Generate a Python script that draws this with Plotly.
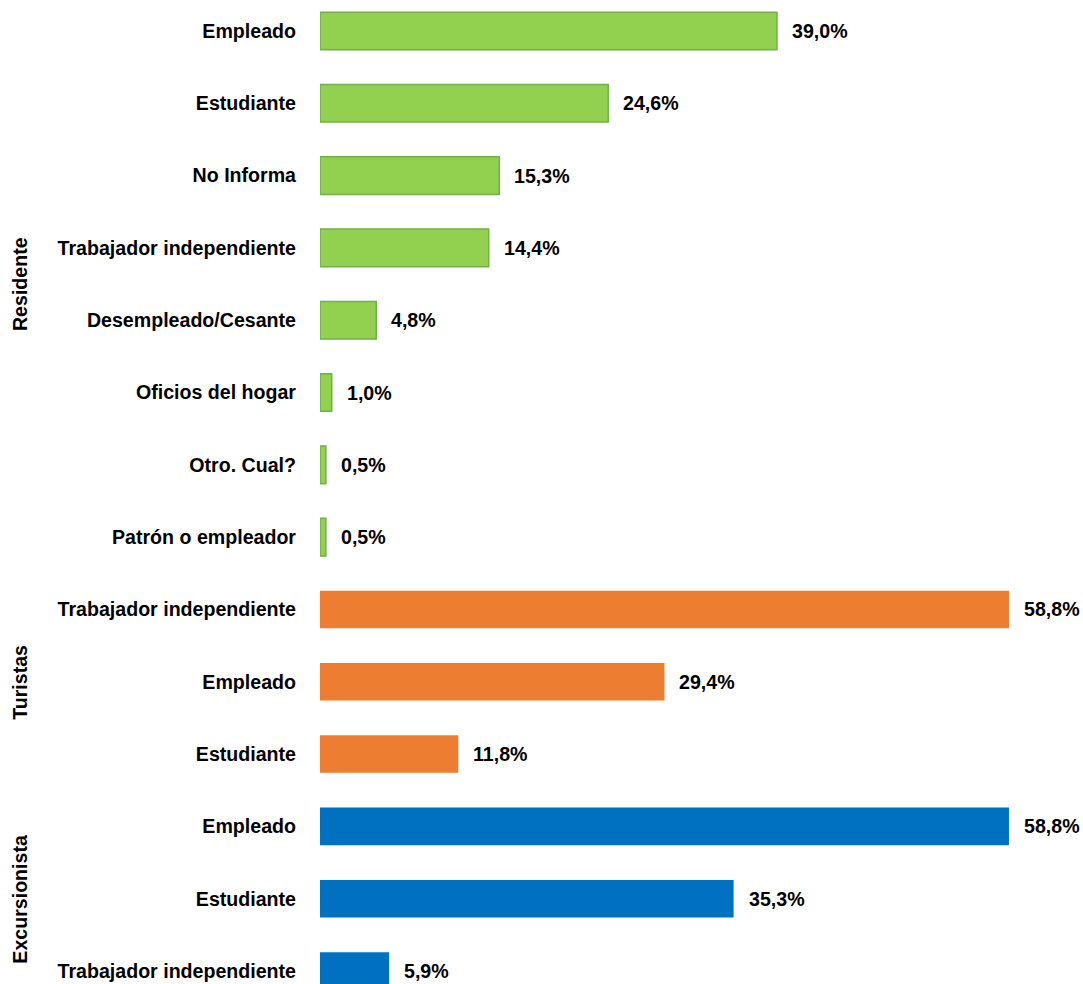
import plotly.graph_objects as go

categories = ["Empleado", "Estudiante", "No Informa", "Trabajador independiente",
              "Desempleado/Cesante", "Oficios del hogar", "Otro. Cual?", "Patrón o empleador",
              "Trabajador independiente", "Empleado", "Estudiante",
              "Empleado", "Estudiante", "Trabajador independiente"]
values = [39.0, 24.6, 15.3, 14.4, 4.8, 1.0, 0.5, 0.5,
          58.8, 29.4, 11.8,
          58.8, 35.3, 5.9]
groups = ["Residente"] * 8 + ["Turistas"] * 3 + ["Excursionista"] * 3
group_names = ["Residente", "Turistas", "Excursionista"]
group_colors = {"Residente": "#92D050", "Turistas": "#ED7D31", "Excursionista": "#0070C0"}
group_border = {"Residente": "#72AF48", "Turistas": "#ED7D31", "Excursionista": "#0070C0"}

FONT = "Liberation Sans Narrow, Arial Narrow, Liberation Sans, Arial, sans-serif"
FS = 19.6
ypos = list(range(len(categories)))

fig = go.Figure()
for g in group_names:
    idx = [i for i, gg in enumerate(groups) if gg == g]
    fig.add_trace(go.Bar(
        orientation="h",
        x=[values[i] for i in idx],
        y=[ypos[i] for i in idx],
        width=0.52,
        marker=dict(color=group_colors[g],
                    line=dict(color=group_border[g], width=1.5 if g == "Residente" else 0)),
        showlegend=False,
        hoverinfo="skip",
    ))

annotations = []
for i, v in enumerate(values):
    annotations.append(dict(
        x=v, y=ypos[i], xref="x", yref="y",
        text=f"{v:.1f}%".replace(".", ","),
        showarrow=False, xanchor="left", yanchor="middle", xshift=13,
        font=dict(family=FONT, size=FS, color="#000000", weight="bold"),
    ))

for g in group_names:
    idx = [i for i, gg in enumerate(groups) if gg == g]
    center = (ypos[idx[0]] + ypos[idx[-1]]) / 2
    annotations.append(dict(
        x=-0.3932, y=center, xref="paper", yref="y",
        text=g, textangle=-90, showarrow=False,
        xanchor="center", yanchor="middle",
        font=dict(family=FONT, size=FS, color="#000000", weight="bold"),
    ))

fig.update_layout(
    width=1083, height=984,
    margin=dict(l=320, r=0, t=0, b=0),
    plot_bgcolor="white", paper_bgcolor="white",
    annotations=annotations,
    xaxis=dict(range=[0, 65.12], showgrid=False, zeroline=False, showticklabels=False,
               showline=False, ticks=""),
    yaxis=dict(range=[13.18, -0.4287], tickmode="array", tickvals=ypos, ticktext=categories,
               showgrid=False, zeroline=False, showline=False, ticks="",
               ticklabelstandoff=23,
               tickfont=dict(family=FONT, size=FS, color="#000000", weight="bold")),
)

fig.write_html(
    "out.html",
    config={"displayModeBar": False},
    post_script="document.body.style.margin='0';document.documentElement.style.overflow='hidden';document.body.style.overflow='hidden';",
)
